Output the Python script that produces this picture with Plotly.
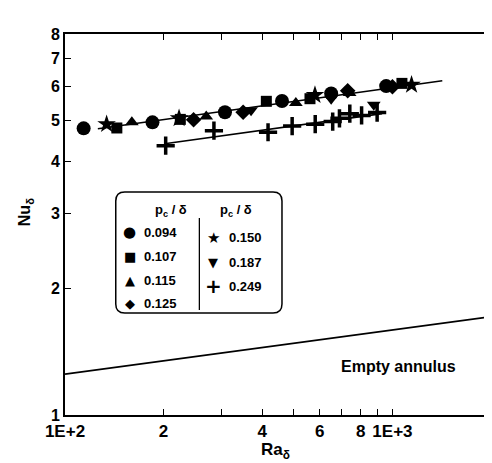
import plotly.graph_objects as go

# ---- data (de-rotated) ----
ra_094 = [114, 185, 308, 460, 650, 957]
nu_094 = [4.78, 4.94, 5.22, 5.55, 5.78, 6.02]
ra_107 = [144, 225, 412, 560, 1069]
nu_107 = [4.79, 5.02, 5.54, 5.62, 6.11]
ra_115 = [160, 270, 507, 740]
nu_115 = [4.94, 5.10, 5.49, 5.80]
ra_125 = [247, 350, 730, 1000]
nu_125 = [5.01, 5.22, 5.87, 6.00]
ra_150 = [134, 223, 580, 1144]
nu_150 = [4.89, 5.05, 5.73, 6.06]
ra_187 = [370, 650, 877]
nu_187 = [5.28, 5.62, 5.44]
ra_249 = [203, 285, 417, 494, 581, 657, 689, 741, 805, 898]
nu_249 = [4.35, 4.72, 4.68, 4.84, 4.89, 4.96, 5.05, 5.18, 5.13, 5.21]

fit_upper_ra = [126, 1420]
fit_upper_nu = [4.77, 6.20]
fit_lower_ra = [204, 930]
fit_lower_nu = [4.40, 5.18]
empty_ra = [100, 2000]
empty_nu = [1.25, 1.71]

x_tickvals = [100, 200, 300, 400, 500, 600, 700, 800, 900, 1000, 2000]
x_ticktext = ["1E+2", "2", "", "4", "", "6", "", "8", "", "1E+3", ""]
x_last_label = "2"   # label of the 2000 tick, placed at the axis end
y_tickvals = [1, 2, 3, 4, 5, 6, 7, 8]
y_ticktext = ["1", "2", "3", "4", "5", "6", "7", "8"]

legend_col1 = [("●", "0.094", 15), ("■", "0.107", 13), ("▲", "0.115", 13), ("◆", "0.125", 13)]
legend_col2 = [("★", "0.150", 15), ("▼", "0.187", 13), ("+", "0.249", 20)]

# ---- figure ----
W, H = 492, 463
L, R, T, B = 57, 7, 26, 56
PW, PH = W - L - R, H - T - B


def px(x):
    return (x - L) / PW


def py(y):
    return (H - B - y) / PH


FONT = "Liberation Sans, Arial, sans-serif"
fig = go.Figure()

series = [
    (ra_094, nu_094, "circle", 14),
    (ra_107, nu_107, "square", 11),
    (ra_115, nu_115, "triangle-up", 12),
    (ra_125, nu_125, "diamond", 12),
    (ra_150, nu_150, "star", 14),
    (ra_187, nu_187, "triangle-down", 12),
]
for xs, ys, sym, sz in series:
    fig.add_trace(go.Scatter(x=xs, y=ys, mode="markers",
                             marker=dict(symbol=sym, size=sz, color="black"),
                             showlegend=False))
fig.add_trace(go.Scatter(x=ra_249, y=nu_249, mode="markers",
                         marker=dict(symbol="cross-thin", size=13,
                                     line=dict(width=3.5, color="black")),
                         showlegend=False))
for xs, ys in [(fit_upper_ra, fit_upper_nu), (fit_lower_ra, fit_lower_nu), (empty_ra, empty_nu)]:
    fig.add_trace(go.Scatter(x=xs, y=ys, mode="lines",
                             line=dict(color="black", width=1.6), showlegend=False))

fig.update_xaxes(type="log", range=[2, 3.30103], tickvals=x_tickvals, ticktext=x_ticktext,
                 ticks="inside", ticklen=6, tickwidth=1.2, tickcolor="black", tickangle=0,
                 showline=True, linecolor="black", linewidth=1.6, mirror="ticks",
                 showgrid=False, zeroline=False,
                 tickfont=dict(family=FONT, size=17, color="black", weight="bold"))
fig.update_yaxes(type="log", range=[0, 0.90309], tickvals=y_tickvals, ticktext=y_ticktext,
                 ticks="inside", ticklen=6, tickwidth=1.2, tickcolor="black", tickangle=0,
                 showline=True, linecolor="black", linewidth=1.6, mirror="ticks",
                 showgrid=False, zeroline=False,
                 tickfont=dict(family=FONT, size=16, color="black", weight="bold"))

ann = []


def add_text(x, y, text, size, family=FONT, xanchor="center", bold=True, angle=0):
    ann.append(dict(x=px(x), y=py(y), xref="paper", yref="paper", showarrow=False,
                    xanchor=xanchor, yanchor="middle", textangle=angle, text=text,
                    font=dict(family=family, size=size, color="black",
                              weight="bold" if bold else "normal")))


# last x tick label (at the right end of the axis)
add_text(W - R, 431, x_last_label, 17)
# axis titles
add_text(268, 443, "Ra<sub>δ</sub>", 17)
add_text(17, 204, "Nu<sub>δ</sub>", 16, angle=-90)
# empty annulus label
add_text(392, 358, "Empty annulus", 16)
# legend headers
add_text(163, 203, "p<sub>c</sub> / δ", 13)
add_text(229, 203, "p<sub>c</sub> / δ", 13)
# legend entries
rows1 = [224, 248, 272, 295]
for (g, t, gs), yy in zip(legend_col1, rows1):
    add_text(122, yy, g, gs, family="DejaVu Sans", bold=False)
    add_text(134, yy, t, 13, xanchor="left")
rows2 = [230, 254, 278]
for (g, t, gs), yy in zip(legend_col2, rows2):
    add_text(206, yy, g, gs, family="DejaVu Sans")
    add_text(220, yy, t, 13, xanchor="left")

# legend box with rounded corners
x0, x1, y0, y1, r = 108, 275, 184, 305, 9
rx, ry = r / PW, r / PH
X0, X1, Y0, Y1 = px(x0), px(x1), py(y0), py(y1)
path = (f"M {X0+rx},{Y0} L {X1-rx},{Y0} Q {X1},{Y0} {X1},{Y0-ry} "
        f"L {X1},{Y1+ry} Q {X1},{Y1} {X1-rx},{Y1} "
        f"L {X0+rx},{Y1} Q {X0},{Y1} {X0},{Y1+ry} "
        f"L {X0},{Y0-ry} Q {X0},{Y0} {X0+rx},{Y0} Z")
shapes = [
    dict(type="path", xref="paper", yref="paper", path=path,
         line=dict(color="black", width=1.5), fillcolor="rgba(0,0,0,0)"),
    dict(type="line", xref="paper", yref="paper", x0=px(192), x1=px(192), y0=py(210), y1=py(302),
         line=dict(color="black", width=1.3)),
]

fig.update_layout(width=W, height=H, margin=dict(l=L, r=R, t=T, b=B),
                  paper_bgcolor="white", plot_bgcolor="white",
                  annotations=ann, shapes=shapes, showlegend=False)

fig.write_html("out.html")
